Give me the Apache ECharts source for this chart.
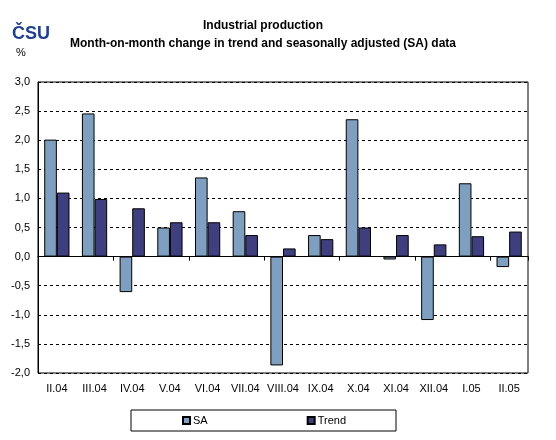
<!DOCTYPE html>
<html>
<head>
<meta charset="utf-8">
<script src="https://cdn.jsdelivr.net/npm/echarts@6/dist/echarts.min.js"></script>
<style>
  html, body { margin: 0; padding: 0; background: #fff; }
  #chart { width: 556px; height: 440px; }
</style>
</head>
<body>
<div id="chart"></div>
<script>
const months = ['II.04', 'III.04', 'IV.04', 'V.04', 'VI.04', 'VII.04', 'VIII.04', 'IX.04', 'X.04', 'XI.04', 'XII.04', 'I.05', 'II.05'];
const saValues = [2.01, 2.46, -0.61, 0.50, 1.36, 0.78, -1.87, 0.37, 2.36, -0.05, -1.09, 1.26, -0.18];
const trendValues = [1.10, 0.99, 0.83, 0.59, 0.59, 0.37, 0.14, 0.30, 0.50, 0.37, 0.21, 0.35, 0.43];

const font = '"Liberation Sans", Arial, sans-serif';
const chart = echarts.init(document.getElementById('chart'), null, { renderer: 'canvas' });

chart.setOption({
    animation: false,
    textStyle: { fontFamily: font, color: '#000' },
    graphic: [
        {
            type: 'text', x: 263, y: 26,
            style: {
                text: 'Industrial production', fontFamily: font, fontSize: 12, fontWeight: 'bold',
                fill: '#000', textAlign: 'center', textVerticalAlign: 'middle'
            }
        },
        {
            type: 'text', x: 263, y: 44,
            style: {
                text: 'Month-on-month change in trend and seasonally adjusted (SA) data', fontFamily: font,
                fontSize: 12, fontWeight: 'bold', fill: '#000', textAlign: 'center', textVerticalAlign: 'middle'
            }
        },
        {
            type: 'text', x: 31, y: 34,
            style: {
                text: 'ČSU', fontFamily: font, fontSize: 18, fontWeight: 'bold',
                fill: '#1f3f8f', textAlign: 'center', textVerticalAlign: 'middle'
            }
        },
        {
            type: 'text', x: 21, y: 53,
            style: { text: '%', fontFamily: font, fontSize: 11, fill: '#000', textAlign: 'center', textVerticalAlign: 'middle' }
        }
    ],
    legend: {
        left: 131, top: 410,
        padding: [5, 50, 5, 51],
        itemGap: 99,
        itemWidth: 7, itemHeight: 7,
        icon: 'rect',
        borderColor: '#000', borderWidth: 1,
        textStyle: { fontFamily: font, fontSize: 11, color: '#000', padding: [0, 0, 0, -2] },
        data: ['SA', 'Trend']
    },
    grid: {
        left: 38, right: 28, top: 82, bottom: 67,
        show: true, borderColor: '#000', borderWidth: 1
    },
    xAxis: [
        {
            type: 'category', data: months, position: 'bottom',
            axisLine: { onZero: true, lineStyle: { color: '#000', width: 1 } },
            axisTick: { show: true, length: 4, lineStyle: { color: '#000' } },
            axisLabel: { show: false }
        },
        {
            type: 'category', data: months, position: 'bottom',
            axisLine: { show: false, onZero: false },
            axisTick: { show: false },
            axisLabel: { interval: 0, fontFamily: font, fontSize: 11, color: '#000', margin: 10 }
        }
    ],
    yAxis: {
        type: 'value', min: -2, max: 3, interval: 0.5,
        axisLine: { show: true, lineStyle: { color: '#000' } },
        axisTick: { show: false },
        axisLabel: {
            fontFamily: font, fontSize: 11, color: '#000', margin: 8,
            formatter: v => v.toFixed(1).replace('.', ',')
        },
        splitLine: { show: true, lineStyle: { color: '#000', type: [3, 3], width: 1 } }
    },
    series: [
        {
            name: 'SA', type: 'bar', data: saValues,
            barGap: '0%', barCategoryGap: '33%',
            itemStyle: { color: '#7f9fc0', borderColor: '#000', borderWidth: 1 }
        },
        {
            name: 'Trend', type: 'bar', data: trendValues,
            barGap: '0%', barCategoryGap: '33%',
            itemStyle: { color: '#3f3f7f', borderColor: '#000', borderWidth: 1 }
        }
    ]
});
</script>
</body>
</html>
